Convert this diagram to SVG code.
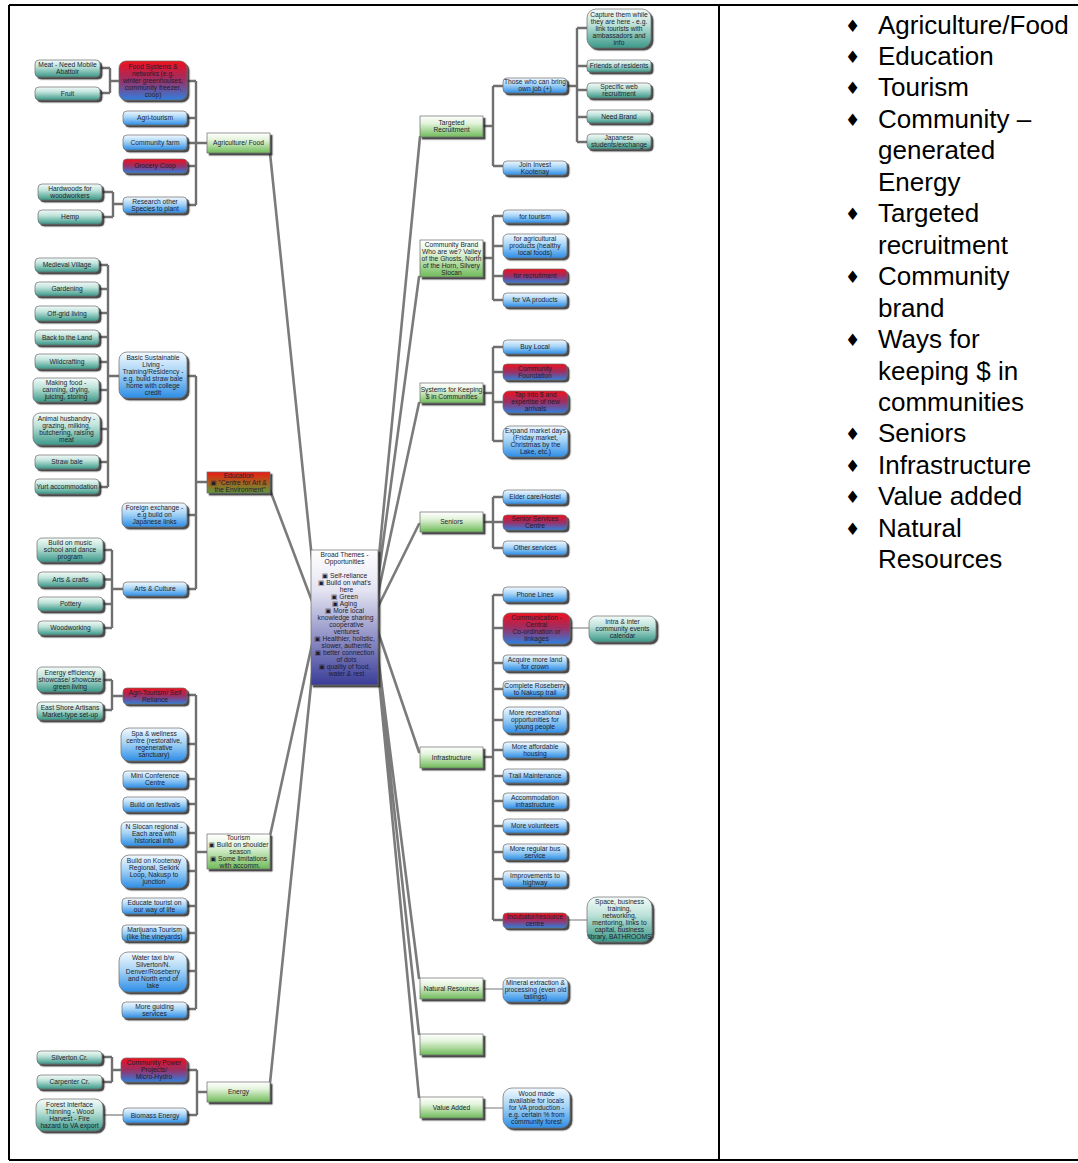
<svg xmlns="http://www.w3.org/2000/svg" width="1078" height="1163" viewBox="0 0 1078 1163">
<defs>
<linearGradient id="gGr" x1="0" y1="0" x2="0" y2="1"><stop offset="0" stop-color="#ffffff"/><stop offset="0.35" stop-color="#e2f3da"/><stop offset="1" stop-color="#70bb5a"/></linearGradient>
<linearGradient id="gBl" x1="0" y1="0" x2="0" y2="1"><stop offset="0" stop-color="#f3f9ff"/><stop offset="0.45" stop-color="#a6d4f6"/><stop offset="1" stop-color="#2d8de6"/></linearGradient>
<linearGradient id="gRb" x1="0" y1="0" x2="0" y2="1"><stop offset="0" stop-color="#f0101e"/><stop offset="0.5" stop-color="#9a3066"/><stop offset="1" stop-color="#2f7fe0"/></linearGradient>
<linearGradient id="gTl" x1="0" y1="0" x2="0" y2="1"><stop offset="0" stop-color="#f4fbf9"/><stop offset="0.4" stop-color="#bde2d9"/><stop offset="1" stop-color="#3a9888"/></linearGradient>
<linearGradient id="gCt" x1="0" y1="0" x2="0" y2="1"><stop offset="0" stop-color="#ffffff"/><stop offset="0.3" stop-color="#e4e4f2"/><stop offset="1" stop-color="#3a3c98"/></linearGradient>
<linearGradient id="gEd" x1="0" y1="0" x2="0" y2="1"><stop offset="0" stop-color="#ee1a10"/><stop offset="0.5" stop-color="#a8601e"/><stop offset="1" stop-color="#5c9a3a"/></linearGradient>
<filter id="sh" x="-10%" y="-20%" width="130%" height="160%"><feDropShadow dx="2.2" dy="2.2" stdDeviation="0.7" flood-color="#2a2a2a" flood-opacity="0.85"/></filter>
</defs>
<style>
text{font-family:"Liberation Sans","DejaVu Sans",sans-serif;font-size:6.7px;fill:#1e1e2e;text-anchor:middle}
.n{stroke:#6a6a6a;stroke-width:0.7;filter:url(#sh)}
.gr{fill:url(#gGr)}
.bl{fill:url(#gBl)}
.rb{fill:url(#gRb)}
.tl{fill:url(#gTl)}
.ct{fill:url(#gCt)}
.ed{fill:url(#gEd)}
.c0{stroke:#7b7b7b;stroke-width:2.6;fill:none;stroke-linecap:round}
.c1{stroke:#6f6f6f;stroke-width:2.4;fill:none}
.c2{stroke:#777;stroke-width:1.2;fill:none}
.bd{stroke:#000;stroke-width:2;fill:none}
.side{font-size:26px;text-anchor:start;fill:#000}
.bu{font-family:"DejaVu Sans",sans-serif;font-size:17px;text-anchor:start;fill:#000}
</style>
<rect width="1078" height="1163" fill="#fff"/>
<g id="frame">
<path class="bd" d="M9,5 H1078 M9,5 V1160 M719,5 V1160 M9,1160 H1078"/>
</g>
<g id="connectors">
<path class="c0" d="M270,153 L318,617 M270,490 L318,617 M270,836 L318,617 M270,1083 L318,617 M420,137 L373,617 M419,277 L373,617 M419,403 L373,617 M419,524 L373,617 M419,752 L373,617 M419,978 L373,617 M419,1034 L373,617 M419,1097 L373,617"/>
<path class="c1" d="M207,143 H196 M196,81 V205 M187,81 H196 M187,118 H196 M187,143 H196 M187,166 H196 M187,205 H196 M119,81 H110 M110,68 V93 M100,68 H110 M100,93 H110 M123,204 H113 M113,192 V217 M102,192 H113 M102,217 H113"/>
<path class="c1" d="M207,482 H196 M196,376 V589 M187,376 H196 M187,515 H196 M187,589 H196 M119,376 H108 M108,265 V487 M99,265 H108 M99,289 H108 M99,313 H108 M99,337 H108 M99,362 H108 M99,390 H108 M100,429 H108 M99,462 H108 M99,487 H108 M123,589 H112 M112,550 V628 M103,550 H112 M103,579.5 H112 M103,604 H112 M103,628 H112"/>
<path class="c1" d="M207,852 H196 M196,695 V1009 M187,695 H196 M187,744 H196 M187,779 H196 M187,804 H196 M187,833 H196 M187,871 H196 M187,906 H196 M187,933 H196 M187,971 H196 M187,1009 H196 M123,696 H112 M112,680 V710 M103,680 H112 M103,710 H112"/>
<path class="c1" d="M207,1092 H197 M197,1070 V1115 M187,1070 H197 M187,1115 H197 M121,1070 H112 M112,1057 V1082 M102,1057 H112 M102,1082 H112"/>
<path class="c2" d="M103,1115 H123"/>
<path class="c1" d="M483,126 H493 M493,86 V166 M493,86 H503 M493,166 H503 M567,86 H577 M577,28 V142 M577,28 H587 M577,66 H587 M577,90 H587 M577,117 H587 M577,142 H587"/>
<path class="c1" d="M483,258 H493 M493,216 V300 M493,216 H503 M493,246 H503 M493,276 H503 M493,300 H503"/>
<path class="c1" d="M483,393 H493 M493,347 V441 M493,347 H503 M493,372 H503 M493,402 H503 M493,441 H503"/>
<path class="c1" d="M483,522 H493 M493,497 V548 M493,497 H503 M493,522 H503 M493,548 H503"/>
<path class="c1" d="M483,757 H493 M493,595 V920 M493,595 H503 M493,628 H503 M493,663 H503 M493,689 H503 M493,720 H503 M493,750 H503 M493,776 H503 M493,801 H503 M493,826 H503 M493,852 H503 M493,879 H503 M493,920 H503"/>
<path class="c2" d="M570,628 H589 M567,920 H587 M483,989 H503 M483,1108 H503"/>
</g>
<g id="center"><rect class="n ct" x="311" y="550" width="67" height="135"/>
<text x="344.5" y="556.7"><tspan x="344.5">Broad Themes -</tspan><tspan x="344.5" dy="7">Opportunities</tspan><tspan x="344.5" dy="14">▣ Self-reliance</tspan><tspan x="344.5" dy="7">▣ Build on what's</tspan><tspan x="346.5" dy="7">here</tspan><tspan x="344.5" dy="7">▣ Green</tspan><tspan x="344.5" dy="7">▣ Aging</tspan><tspan x="344.5" dy="7">▣ More local</tspan><tspan x="345.5" dy="7">knowledge sharing</tspan><tspan x="346.5" dy="7">cooperative</tspan><tspan x="346.5" dy="7">ventures</tspan><tspan x="344.5" dy="7">▣ Healthier, holistic,</tspan><tspan x="346.5" dy="7">slower, authentic</tspan><tspan x="344.5" dy="7">▣ better connection</tspan><tspan x="346.5" dy="7">of dots</tspan><tspan x="344.5" dy="7">▣ quality of food,</tspan><tspan x="346.5" dy="7">water &amp; rest</tspan></text></g>

<g id="agfood"><rect class="n gr" x="207" y="133" width="63" height="20"/><text x="238.5" y="145.4">Agriculture/ Food</text></g>
<g id="foodsys"><rect class="n rb" x="119" y="61" width="68" height="39" rx="7"/><text x="153" y="68.9"><tspan x="153">Food Systems &amp;</tspan><tspan x="153" dy="7">networks (e.g.</tspan><tspan x="153" dy="7">winter greenhouses,</tspan><tspan x="153" dy="7">community freezer,</tspan><tspan x="153" dy="7">coop)</tspan></text></g>
<g id="meat"><rect class="n tl" x="35" y="60" width="65" height="17" rx="4"/><text x="67.5" y="67.4"><tspan x="67.5">Meat - Need Mobile</tspan><tspan x="67.5" dy="7">Abattoir</tspan></text></g>
<g id="fruit"><rect class="n tl" x="35" y="87" width="65" height="13" rx="4"/><text x="67.5" y="95.9">Fruit</text></g>
<g id="agritour"><rect class="n bl" x="123" y="111" width="64" height="14" rx="4"/><text x="155" y="120.4">Agri-tourism</text></g>
<g id="commfarm"><rect class="n bl" x="123" y="135" width="64" height="15" rx="4"/><text x="155" y="144.9">Community farm</text></g>
<g id="grocery"><rect class="n rb" x="123" y="159" width="64" height="14" rx="4"/><text x="155" y="168.4">Grocery Coop</text></g>
<g id="research"><rect class="n bl" x="123" y="197" width="64" height="16" rx="4"/><text x="155" y="203.9"><tspan x="155">Research other</tspan><tspan x="155" dy="7">Species to plant</tspan></text></g>
<g id="hardwoods"><rect class="n tl" x="38" y="184" width="64" height="16" rx="4"/><text x="70" y="190.9"><tspan x="70">Hardwoods for</tspan><tspan x="70" dy="7">woodworkers</tspan></text></g>
<g id="hemp"><rect class="n tl" x="38" y="210" width="64" height="14" rx="4"/><text x="70" y="219.4">Hemp</text></g>

<g id="education"><rect class="n ed" x="207" y="472" width="63" height="21"/><text x="238.5" y="477.9"><tspan x="238.5">Education</tspan><tspan x="238.5" dy="7">▣ "Centre for Art &amp;</tspan><tspan x="240" dy="7">the Environment"</tspan></text></g>
<g id="bsl"><rect class="n bl" x="119" y="352" width="68" height="46" rx="8"/><text x="153" y="359.9"><tspan x="153">Basic Sustainable</tspan><tspan x="153" dy="7">Living -</tspan><tspan x="153" dy="7">Training/Residency -</tspan><tspan x="153" dy="7">e.g. build straw bale</tspan><tspan x="153" dy="7">home with college</tspan><tspan x="153" dy="7">credit</tspan></text></g>
<g id="foreign"><rect class="n bl" x="122" y="503" width="65" height="24" rx="5"/><text x="154.5" y="510.4"><tspan x="154.5">Foreign exchange -</tspan><tspan x="154.5" dy="7">e.g build on</tspan><tspan x="154.5" dy="7">Japanese links</tspan></text></g>
<g id="arts"><rect class="n bl" x="123" y="582" width="64" height="14" rx="4"/><text x="155" y="591.4">Arts &amp; Culture</text></g>
<g id="medieval"><rect class="n tl" x="35" y="258" width="64" height="14" rx="4"/><text x="67" y="267.4">Medieval Village</text></g>
<g id="gardening"><rect class="n tl" x="35" y="282" width="64" height="14" rx="4"/><text x="67" y="291.4">Gardening</text></g>
<g id="offgrid"><rect class="n tl" x="35" y="306" width="64" height="15" rx="4"/><text x="67" y="315.9">Off-grid living</text></g>
<g id="backland"><rect class="n tl" x="35" y="330" width="64" height="15" rx="4"/><text x="67" y="339.9">Back to the Land</text></g>
<g id="wildcraft"><rect class="n tl" x="35" y="354" width="64" height="15" rx="4"/><text x="67" y="363.9">Wildcrafting</text></g>
<g id="makingfood"><rect class="n tl" x="33" y="378" width="66" height="24" rx="5"/><text x="66" y="385.4"><tspan x="66">Making food -</tspan><tspan x="66" dy="7">canning, drying,</tspan><tspan x="66" dy="7">juicing, storing</tspan></text></g>
<g id="animal"><rect class="n tl" x="33" y="413" width="67" height="32" rx="7"/><text x="66.5" y="420.9"><tspan x="66.5">Animal husbandry -</tspan><tspan x="66.5" dy="7">grazing, milking,</tspan><tspan x="66.5" dy="7">butchering, raising</tspan><tspan x="66.5" dy="7">meat</tspan></text></g>
<g id="strawbale"><rect class="n tl" x="35" y="455" width="64" height="14" rx="4"/><text x="67" y="464.4">Straw bale</text></g>
<g id="yurt"><rect class="n tl" x="35" y="479" width="64" height="15" rx="4"/><text x="67" y="488.9">Yurt accommodation</text></g>
<g id="music"><rect class="n tl" x="37" y="538" width="66" height="24" rx="5"/><text x="70" y="545.4"><tspan x="70">Build on music</tspan><tspan x="70" dy="7">school and dance</tspan><tspan x="70" dy="7">program</tspan></text></g>
<g id="crafts"><rect class="n tl" x="38" y="572" width="65" height="15" rx="4"/><text x="70.5" y="581.9">Arts &amp; crafts</text></g>
<g id="pottery"><rect class="n tl" x="38" y="597" width="65" height="14" rx="4"/><text x="70.5" y="606.4">Pottery</text></g>
<g id="woodworking"><rect class="n tl" x="38" y="621" width="65" height="14" rx="4"/><text x="70.5" y="630.4">Woodworking</text></g>

<g id="tourism"><rect class="n gr" x="207" y="834" width="63" height="35"/><text x="238.5" y="839.9"><tspan x="238.5">Tourism</tspan><tspan x="238.5" dy="7">▣ Build on shoulder</tspan><tspan x="240" dy="7">season</tspan><tspan x="238.5" dy="7">▣ Some limitations</tspan><tspan x="240" dy="7">with accomm.</tspan></text></g>
<g id="agritourism"><rect class="n rb" x="123" y="688" width="64" height="16" rx="4"/><text x="155" y="694.9"><tspan x="155">Agri-Tourism/ Self</tspan><tspan x="155" dy="7">Reliance</tspan></text></g>
<g id="energyeff"><rect class="n tl" x="37" y="667" width="66" height="25" rx="5"/><text x="70" y="674.9"><tspan x="70">Energy efficiency</tspan><tspan x="70" dy="7">showcase/ showcase</tspan><tspan x="70" dy="7">green living</tspan></text></g>
<g id="eastshore"><rect class="n tl" x="37" y="702" width="66" height="18" rx="4"/><text x="70" y="709.9"><tspan x="70">East Shore Artisans</tspan><tspan x="70" dy="7">Market-type set-up</tspan></text></g>
<g id="spa"><rect class="n bl" x="121" y="728" width="66" height="33" rx="8"/><text x="154" y="736.4"><tspan x="154">Spa &amp; wellness</tspan><tspan x="154" dy="7">centre (restorative,</tspan><tspan x="154" dy="7">regenerative</tspan><tspan x="154" dy="7">sanctuary)</tspan></text></g>
<g id="miniconf"><rect class="n bl" x="123" y="771" width="64" height="17" rx="4"/><text x="155" y="778.4"><tspan x="155">Mini Conference</tspan><tspan x="155" dy="7">Centre</tspan></text></g>
<g id="festivals"><rect class="n bl" x="123" y="797" width="64" height="15" rx="4"/><text x="155" y="806.9">Build on festivals</text></g>
<g id="nslocan"><rect class="n bl" x="121" y="822" width="66" height="24" rx="5"/><text x="154" y="829.4"><tspan x="154">N Slocan regional -</tspan><tspan x="154" dy="7">Each area with</tspan><tspan x="154" dy="7">historical info</tspan></text></g>
<g id="kootenay"><rect class="n bl" x="121" y="855" width="66" height="33" rx="8"/><text x="154" y="863.4"><tspan x="154">Build on Kootenay</tspan><tspan x="154" dy="7">Regional, Selkirk</tspan><tspan x="154" dy="7">Loop, Nakusp to</tspan><tspan x="154" dy="7">junction</tspan></text></g>
<g id="educate"><rect class="n bl" x="122" y="898" width="65" height="16" rx="4"/><text x="154.5" y="904.9"><tspan x="154.5">Educate tourist on</tspan><tspan x="154.5" dy="7">our way of life</tspan></text></g>
<g id="marijuana"><rect class="n bl" x="122" y="925" width="65" height="16" rx="4"/><text x="154.5" y="931.9"><tspan x="154.5">Marijuana Tourism</tspan><tspan x="154.5" dy="7">(like the vineyards)</tspan></text></g>
<g id="watertaxi"><rect class="n bl" x="119" y="952" width="68" height="40" rx="9"/><text x="153" y="960.4"><tspan x="153">Water taxi b/w</tspan><tspan x="153" dy="7">Silverton/N.</tspan><tspan x="153" dy="7">Denver/Roseberry</tspan><tspan x="153" dy="7">and North end of</tspan><tspan x="153" dy="7">lake</tspan></text></g>
<g id="guiding"><rect class="n bl" x="122" y="1002" width="65" height="16" rx="4"/><text x="154.5" y="1008.9"><tspan x="154.5">More guiding</tspan><tspan x="154.5" dy="7">services</tspan></text></g>

<g id="energy"><rect class="n gr" x="207" y="1082" width="63" height="20"/><text x="238.5" y="1094.4">Energy</text></g>
<g id="commpower"><rect class="n rb" x="121" y="1058" width="66" height="24" rx="5"/><text x="154" y="1065.4"><tspan x="154">Community Power</tspan><tspan x="154" dy="7">Projects/</tspan><tspan x="154" dy="7">Micro-Hydro</tspan></text></g>
<g id="biomass"><rect class="n bl" x="123" y="1108" width="64" height="15" rx="4"/><text x="155" y="1117.9">Biomass Energy</text></g>
<g id="silverton"><rect class="n tl" x="37" y="1051" width="65" height="13" rx="4"/><text x="69.5" y="1059.9">Silverton Cr.</text></g>
<g id="carpenter"><rect class="n tl" x="37" y="1075" width="65" height="14" rx="4"/><text x="69.5" y="1084.4">Carpenter Cr.</text></g>
<g id="forest"><rect class="n tl" x="36" y="1099" width="67" height="32" rx="8"/><text x="69.5" y="1106.9"><tspan x="69.5">Forest Interface</tspan><tspan x="69.5" dy="7">Thinning - Wood</tspan><tspan x="69.5" dy="7">Harvest - Fire</tspan><tspan x="69.5" dy="7">hazard to VA export</tspan></text></g>

<g id="targeted"><rect class="n gr" x="420" y="116" width="63" height="21"/><text x="451.5" y="125.4"><tspan x="451.5">Targeted</tspan><tspan x="451.5" dy="7">Recruitment</tspan></text></g>
<g id="thosewho"><rect class="n bl" x="503" y="78" width="64" height="15" rx="4"/><text x="535" y="84.4"><tspan x="535">Those who can bring</tspan><tspan x="535" dy="7">own job (+)</tspan></text></g>
<g id="joininvest"><rect class="n bl" x="503" y="161" width="64" height="14" rx="4"/><text x="535" y="166.9"><tspan x="535">Join Invest</tspan><tspan x="535" dy="7">Kootenay</tspan></text></g>
<g id="capture"><rect class="n tl" x="587" y="9" width="64" height="39" rx="9"/><text x="619" y="16.9"><tspan x="619">Capture them while</tspan><tspan x="619" dy="7">they are here - e.g.</tspan><tspan x="619" dy="7">link tourists with</tspan><tspan x="619" dy="7">ambassadors and</tspan><tspan x="619" dy="7">info</tspan></text></g>
<g id="friends"><rect class="n tl" x="587" y="60" width="64" height="12" rx="3"/><text x="619" y="68.4">Friends of residents</text></g>
<g id="specificweb"><rect class="n tl" x="587" y="83" width="64" height="15" rx="4"/><text x="619" y="89.4"><tspan x="619">Specific web</tspan><tspan x="619" dy="7">recruitment</tspan></text></g>
<g id="needbrand"><rect class="n tl" x="587" y="110" width="64" height="13" rx="3"/><text x="619" y="118.9">Need Brand</text></g>
<g id="japanese"><rect class="n tl" x="587" y="134" width="64" height="15" rx="4"/><text x="619" y="140.4"><tspan x="619">Japanese</tspan><tspan x="619" dy="7">students/exchange</tspan></text></g>

<g id="brand"><rect class="n gr" x="420" y="240" width="63" height="37"/><text x="451.5" y="246.9"><tspan x="451.5">Community Brand</tspan><tspan x="451.5" dy="7">Who are we? Valley</tspan><tspan x="451.5" dy="7">of the Ghosts, North</tspan><tspan x="451.5" dy="7">of the Horn, Silvery</tspan><tspan x="451.5" dy="7">Slocan</tspan></text></g>
<g id="fortourism"><rect class="n bl" x="503" y="210" width="64" height="13" rx="4"/><text x="535" y="218.9">for tourism</text></g>
<g id="foragri"><rect class="n bl" x="503" y="234" width="64" height="24" rx="5"/><text x="535" y="241.4"><tspan x="535">for agricultural</tspan><tspan x="535" dy="7">products (healthy</tspan><tspan x="535" dy="7">local foods)</tspan></text></g>
<g id="forrecruit"><rect class="n rb" x="503" y="269" width="64" height="14" rx="4"/><text x="535" y="278.4">for recruitment</text></g>
<g id="forva"><rect class="n bl" x="503" y="293" width="64" height="14" rx="4"/><text x="535" y="302.4">for VA products</text></g>

<g id="systems"><rect class="n gr" x="420" y="383" width="63" height="20"/><text x="451.5" y="391.9"><tspan x="451.5">Systems for Keeping</tspan><tspan x="451.5" dy="7">$ in Communities</tspan></text></g>
<g id="buylocal"><rect class="n bl" x="503" y="340" width="64" height="14" rx="4"/><text x="535" y="349.4">Buy Local</text></g>
<g id="commfound"><rect class="n rb" x="503" y="364" width="64" height="16" rx="4"/><text x="535" y="370.9"><tspan x="535">Community</tspan><tspan x="535" dy="7">Foundation</tspan></text></g>
<g id="tapinto"><rect class="n rb" x="503" y="391" width="65" height="22" rx="6"/><text x="535.5" y="397.4"><tspan x="535.5">Tap into $ and</tspan><tspan x="535.5" dy="7">expertise of new</tspan><tspan x="535.5" dy="7">arrivals</tspan></text></g>
<g id="expand"><rect class="n bl" x="503" y="426" width="65" height="31" rx="7"/><text x="535.5" y="433.4"><tspan x="535.5">Expand market days</tspan><tspan x="535.5" dy="7">(Friday market,</tspan><tspan x="535.5" dy="7">Christmas by the</tspan><tspan x="535.5" dy="7">Lake, etc.)</tspan></text></g>

<g id="seniors"><rect class="n gr" x="420" y="512" width="63" height="20"/><text x="451.5" y="524.4">Seniors</text></g>
<g id="eldercare"><rect class="n bl" x="503" y="490" width="64" height="14" rx="4"/><text x="535" y="499.4">Elder care/Hostel</text></g>
<g id="seniorsvc"><rect class="n rb" x="503" y="515" width="64" height="15" rx="4"/><text x="535" y="521.4"><tspan x="535">Senior Services</tspan><tspan x="535" dy="7">Centre</tspan></text></g>
<g id="othersvc"><rect class="n bl" x="503" y="541" width="64" height="14" rx="4"/><text x="535" y="550.4">Other services</text></g>

<g id="infra"><rect class="n gr" x="420" y="747" width="63" height="21"/><text x="451.5" y="759.9">Infrastructure</text></g>
<g id="phone"><rect class="n bl" x="503" y="587" width="64" height="15" rx="4"/><text x="535" y="596.9">Phone Lines</text></g>
<g id="communication"><rect class="n rb" x="503" y="613" width="67" height="31" rx="7"/><text x="536.5" y="620.4"><tspan x="536.5">Communication -</tspan><tspan x="536.5" dy="7">Central</tspan><tspan x="536.5" dy="7">Co-ordination or</tspan><tspan x="536.5" dy="7">linkages</tspan></text></g>
<g id="intra"><rect class="n tl" x="589" y="616" width="67" height="26" rx="7"/><text x="622.5" y="624.4"><tspan x="622.5">Intra &amp; inter</tspan><tspan x="622.5" dy="7">community events</tspan><tspan x="622.5" dy="7">calendar</tspan></text></g>
<g id="acquire"><rect class="n bl" x="503" y="655" width="64" height="16" rx="4"/><text x="535" y="661.9"><tspan x="535">Acquire more land</tspan><tspan x="535" dy="7">for crown</tspan></text></g>
<g id="complete"><rect class="n bl" x="503" y="681" width="64" height="16" rx="4"/><text x="535" y="687.9"><tspan x="535">Complete Roseberry</tspan><tspan x="535" dy="7">to Nakusp trail</tspan></text></g>
<g id="recreational"><rect class="n bl" x="503" y="707" width="64" height="26" rx="6"/><text x="535" y="715.4"><tspan x="535">More recreational</tspan><tspan x="535" dy="7">opportunities for</tspan><tspan x="535" dy="7">young people</tspan></text></g>
<g id="affordable"><rect class="n bl" x="503" y="742" width="64" height="16" rx="4"/><text x="535" y="748.9"><tspan x="535">More affordable</tspan><tspan x="535" dy="7">housing</tspan></text></g>
<g id="trail"><rect class="n bl" x="503" y="769" width="64" height="14" rx="4"/><text x="535" y="778.4">Trail Maintenance</text></g>
<g id="accommodation"><rect class="n bl" x="503" y="793" width="64" height="16" rx="4"/><text x="535" y="799.9"><tspan x="535">Accommodation</tspan><tspan x="535" dy="7">infrastructure</tspan></text></g>
<g id="volunteers"><rect class="n bl" x="503" y="819" width="64" height="14" rx="4"/><text x="535" y="828.4">More volunteers</text></g>
<g id="bus"><rect class="n bl" x="503" y="844" width="64" height="16" rx="4"/><text x="535" y="850.9"><tspan x="535">More regular bus</tspan><tspan x="535" dy="7">service</tspan></text></g>
<g id="highway"><rect class="n bl" x="503" y="871" width="64" height="16" rx="4"/><text x="535" y="877.9"><tspan x="535">Improvements to</tspan><tspan x="535" dy="7">highway</tspan></text></g>
<g id="incubator"><rect class="n rb" x="503" y="913" width="64" height="15" rx="4"/><text x="535" y="919.4"><tspan x="535">Incubator/resource</tspan><tspan x="535" dy="7">centre</tspan></text></g>
<g id="space"><rect class="n tl" x="587" y="897" width="65" height="45" rx="10"/><text x="619.5" y="904.4"><tspan x="619.5">Space, business</tspan><tspan x="619.5" dy="7">training,</tspan><tspan x="619.5" dy="7">networking,</tspan><tspan x="619.5" dy="7">mentoring, links to</tspan><tspan x="619.5" dy="7">capital, business</tspan><tspan x="619.5" dy="7">library, BATHROOMS</tspan></text></g>

<g id="natres"><rect class="n gr" x="420" y="978" width="63" height="21"/><text x="451.5" y="990.9">Natural Resources</text></g>
<g id="mineral"><rect class="n bl" x="503" y="978" width="65" height="24" rx="6"/><text x="535.5" y="985.4"><tspan x="535.5">Mineral extraction &amp;</tspan><tspan x="535.5" dy="7">processing (even old</tspan><tspan x="535.5" dy="7">tailings)</tspan></text></g>
<g id="empty"><rect class="n gr" x="420" y="1034" width="63" height="21"/></g>
<g id="valueadded"><rect class="n gr" x="420" y="1097" width="63" height="21"/><text x="451.5" y="1109.9">Value Added</text></g>
<g id="wood"><rect class="n bl" x="503" y="1088" width="67" height="40" rx="9"/><text x="536.5" y="1096.4"><tspan x="536.5">Wood made</tspan><tspan x="536.5" dy="7">available for locals</tspan><tspan x="536.5" dy="7">for VA production -</tspan><tspan x="536.5" dy="7">e.g. certain % from</tspan><tspan x="536.5" dy="7">community forest</tspan></text></g>

<g id="sidelist">
<text class="bu"><tspan x="845" y="31.5">♦</tspan><tspan x="845" y="63">♦</tspan><tspan x="845" y="94.4">♦</tspan><tspan x="845" y="125.9">♦</tspan><tspan x="845" y="220.2">♦</tspan><tspan x="845" y="283.1">♦</tspan><tspan x="845" y="346">♦</tspan><tspan x="845" y="440.4">♦</tspan><tspan x="845" y="471.8">♦</tspan><tspan x="845" y="503.3">♦</tspan><tspan x="845" y="534.7">♦</tspan></text>
<text class="side"><tspan x="878" y="33.5">Agriculture/Food</tspan><tspan x="878" y="65">Education</tspan><tspan x="878" y="96.4">Tourism</tspan><tspan x="878" y="127.9">Community –</tspan><tspan x="878" y="159.3">generated</tspan><tspan x="878" y="190.8">Energy</tspan><tspan x="878" y="222.2">Targeted</tspan><tspan x="878" y="253.7">recruitment</tspan><tspan x="878" y="285.1">Community</tspan><tspan x="878" y="316.6">brand</tspan><tspan x="878" y="348">Ways for</tspan><tspan x="878" y="379.5">keeping $ in</tspan><tspan x="878" y="410.9">communities</tspan><tspan x="878" y="442.4">Seniors</tspan><tspan x="878" y="473.8">Infrastructure</tspan><tspan x="878" y="505.3">Value added</tspan><tspan x="878" y="536.7">Natural</tspan><tspan x="878" y="568.2">Resources</tspan></text>
</g>
</svg>
